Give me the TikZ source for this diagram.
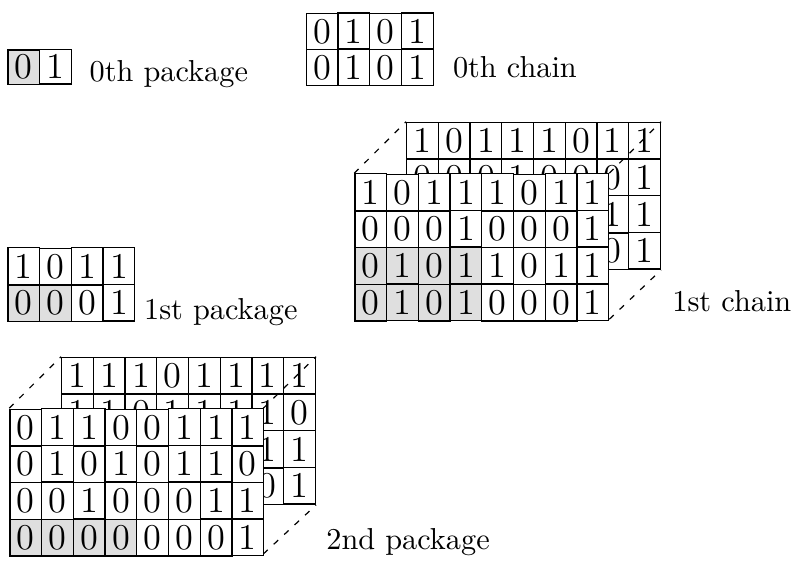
\documentclass[tikz,border=0pt]{standalone}
\usepackage{amsmath}
\usepackage{tikz}
\usetikzlibrary{matrix}

\tikzset{
  cell/.style={draw, fill=white, inner sep=0pt, minimum width=0.368cm,
    minimum height=0.422cm, font=\large},
  marked/.style={fill=gray!25},
  bits/.style={matrix of nodes, anchor=north west, inner sep=0pt, outer sep=0pt,
    column sep=-\pgflinewidth, row sep=-\pgflinewidth, nodes={cell}},
  link/.style={dash pattern=on 2pt off 2.7pt},
  tag/.style={anchor=base west}
}

\begin{document}
\begin{tikzpicture}[x=0.0116cm, y=-0.0116cm]
  \useasboundingbox (0,0) rectangle (795,561);

  % 0th package and chain
  \matrix (P0) [bits, nodes={minimum height=0.398cm}] at (7.3,49.1) {
    |[marked]| 0 & 1 \\
  };
  \node [tag] (T0) at (79,81.7) {0th package};
  \matrix (C0) [bits, nodes={minimum height=0.418cm}] at (305.7,12.3) {
    0 & 1 & 0 & 1 \\
    0 & 1 & 0 & 1 \\
  };
  \node [tag] (U0) at (442.3,77.3) {0th chain};

  % 1st package
  \matrix (P1) [bits] at (7.3,247.3) {
    1 & 0 & 1 & 1 \\
    |[marked]| 0 & |[marked]| 0 & 0 & 1 \\
  };
  \node [tag] (T1) at (133.4,319.3) {1st package};

  % 1st chain: back layer, links, front layer
  \coordinate (c1a) at (354.3,173.3);
  \coordinate (c1b) at (609.3,173.3);
  \coordinate (c1c) at (609.3,319.3);
  \matrix (C1B) [bits] at (406,121.7) {
    1 & 0 & 1 & 1 & 1 & 0 & 1 & 1 \\
    0 & 0 & 0 & 1 & 0 & 0 & 0 & 1 \\
    0 & 1 & 0 & 1 & 1 & 0 & 1 & 1 \\
    0 & 1 & 0 & 1 & 0 & 0 & 0 & 1 \\
  };
  \draw [link] (c1a) -- (C1B.north west);
  \draw [link] (c1b) -- (C1B.north east);
  \draw [link] (c1c) -- (C1B.south east);
  \matrix (C1F) [bits] at (c1a) {
    1 & 0 & 1 & 1 & 1 & 0 & 1 & 1 \\
    0 & 0 & 0 & 1 & 0 & 0 & 0 & 1 \\
    |[marked]| 0 & |[marked]| 1 & |[marked]| 0 & |[marked]| 1 & 1 & 0 & 1 & 1 \\
    |[marked]| 0 & |[marked]| 1 & |[marked]| 0 & |[marked]| 1 & 0 & 0 & 0 & 1 \\
  };
  \node [tag] (U1) at (661.7,311.7) {1st chain};

  % 2nd package: back layer, links, front layer
  \coordinate (p2a) at (9.3,408.3);
  \coordinate (p2b) at (263.3,408.3);
  \coordinate (p2c) at (263.3,554);
  \matrix (P2B) [bits] at (61,356.7) {
    1 & 1 & 1 & 0 & 1 & 1 & 1 & 1 \\
    1 & 1 & 0 & 1 & 1 & 1 & 1 & 0 \\
    1 & 0 & 0 & 1 & 0 & 0 & 1 & 1 \\
    0 & 1 & 1 & 0 & 0 & 1 & 0 & 1 \\
  };
  \draw [link] (p2a) -- (P2B.north west);
  \draw [link] (p2b) -- (P2B.north east);
  \draw [link] (p2c) -- (P2B.south east);
  \matrix (P2F) [bits] at (p2a) {
    0 & 1 & 1 & 0 & 0 & 1 & 1 & 1 \\
    0 & 1 & 0 & 1 & 0 & 1 & 1 & 0 \\
    0 & 0 & 1 & 0 & 0 & 0 & 1 & 1 \\
    |[marked]| 0 & |[marked]| 0 & |[marked]| 0 & |[marked]| 0 & 0 & 0 & 0 & 1 \\
  };
  \node [tag] (T2) at (315.7,549.3) {2nd package};

\end{tikzpicture}
\end{document}
